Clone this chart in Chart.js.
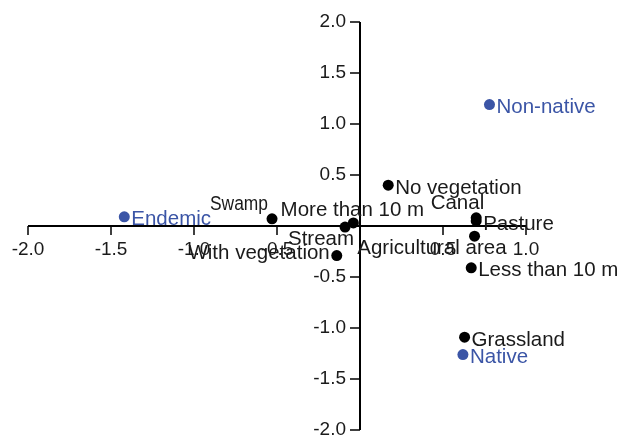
<!DOCTYPE html>
<html>
<head>
<meta charset="utf-8">
<script src="https://cdn.jsdelivr.net/npm/chart.js@4.4.1/dist/chart.umd.min.js"></script>
<style>
  html, body { margin: 0; padding: 0; background: #fff; }
  #wrap { width: 621px; height: 437px; }
</style>
</head>
<body>
<div id="wrap"><canvas id="chart" width="621" height="437"></canvas></div>
<script>
// Correspondence map: habitat variables (black) and species groups (blue)

const habitatNames = ["Swamp", "More than 10 m", "Stream", "With vegetation", "No vegetation",
  "Canal", "Pasture", "Agricultural area", "Less than 10 m", "Grassland"];
const habitatX = [-0.53, -0.04, -0.09, -0.14, 0.17, 0.70, 0.70, 0.69, 0.67, 0.63];
const habitatY = [0.07, 0.03, -0.01, -0.29, 0.40, 0.08, 0.05, -0.10, -0.41, -1.09];

const groupNames = ["Endemic", "Non-native", "Native"];
const groupX = [-1.42, 0.78, 0.62];
const groupY = [0.09, 1.19, -1.26];

const xTicks = [-2.0, -1.5, -1.0, -0.5, 0.5, 1.0];
const yTicks = [2.0, 1.5, 1.0, 0.5, -0.5, -1.0, -1.5, -2.0];

const BLACK = "#000000";
const BLUE = "#3b55a6";
const FAMILY = "'Liberation Sans', Arial, sans-serif";
const TICK_FONT = "19px " + FAMILY;
const LABEL_FONT = "20.5px " + FAMILY;

// label placement relative to the dot: [dx, dy, align, maxWidth]
const labelPos = {
  "Swamp": [-4, -15, "right", 58],
  "More than 10 m": [-1, -13, "center"],
  "Stream": [9, 12, "right"],
  "With vegetation": [-7, -2, "right"],
  "Canal": [8, -14, "right"],
  "Agricultural area": [32, 12, "right"],
};

const axesPlugin = {
  id: "crossAxes",
  beforeDatasetsDraw(chart) {
    const { ctx, scales: { x, y } } = chart;
    const x0 = x.getPixelForValue(0);
    const y0 = y.getPixelForValue(0);
    ctx.save();
    ctx.strokeStyle = "#000";
    ctx.lineWidth = 2;
    ctx.beginPath();
    ctx.moveTo(x.getPixelForValue(-2), y0);
    ctx.lineTo(x.getPixelForValue(1.0), y0);
    ctx.moveTo(x0, y.getPixelForValue(2));
    ctx.lineTo(x0, y.getPixelForValue(-2));
    ctx.stroke();

    ctx.lineWidth = 1.5;
    ctx.font = TICK_FONT;
    ctx.fillStyle = "#1a1a1a";
    ctx.textAlign = "center";
    ctx.textBaseline = "middle";
    xTicks.forEach((v) => {
      const px = x.getPixelForValue(v);
      ctx.beginPath();
      ctx.moveTo(px, y0);
      ctx.lineTo(px, y0 + 9);
      ctx.stroke();
      ctx.fillText(v.toFixed(1), px, y0 + 24);
    });
    ctx.textAlign = "right";
    yTicks.forEach((v) => {
      const py = y.getPixelForValue(v);
      ctx.beginPath();
      ctx.moveTo(x0, py);
      ctx.lineTo(x0 - 10, py);
      ctx.stroke();
      ctx.fillText(v.toFixed(1), x0 - 14, py);
    });
    ctx.restore();
  },
  afterDatasetsDraw(chart) {
    const { ctx } = chart;
    ctx.save();
    ctx.font = LABEL_FONT;
    ctx.textBaseline = "middle";
    chart.data.datasets.forEach((ds, i) => {
      const meta = chart.getDatasetMeta(i);
      meta.data.forEach((pt, j) => {
        const name = ds.names[j];
        const p = labelPos[name] || [7, 3, "left"];
        ctx.fillStyle = ds.textColor;
        ctx.textAlign = p[2];
        if (p[3]) ctx.fillText(name, pt.x + p[0], pt.y + p[1], p[3]);
        else ctx.fillText(name, pt.x + p[0], pt.y + p[1]);
      });
    });
    ctx.restore();
  },
};

new Chart(document.getElementById("chart"), {
  type: "scatter",
  data: {
    datasets: [
      {
        names: habitatNames,
        textColor: "#1a1a1a",
        data: habitatX.map((v, i) => ({ x: v, y: habitatY[i] })),
        backgroundColor: BLACK,
        borderWidth: 0,
        pointRadius: 5.5,
      },
      {
        names: groupNames,
        textColor: BLUE,
        data: groupX.map((v, i) => ({ x: v, y: groupY[i] })),
        backgroundColor: BLUE,
        borderWidth: 0,
        pointRadius: 5.5,
      },
    ],
  },
  options: {
    responsive: false,
    animation: false,
    layout: { padding: { left: 28, right: 12, top: 22, bottom: 7 } },
    plugins: { legend: { display: false }, tooltip: { enabled: false } },
    scales: {
      x: { min: -2, max: 1.5, display: false },
      y: { min: -2, max: 2, display: false },
    },
  },
  plugins: [axesPlugin],
});
</script>
</body>
</html>
